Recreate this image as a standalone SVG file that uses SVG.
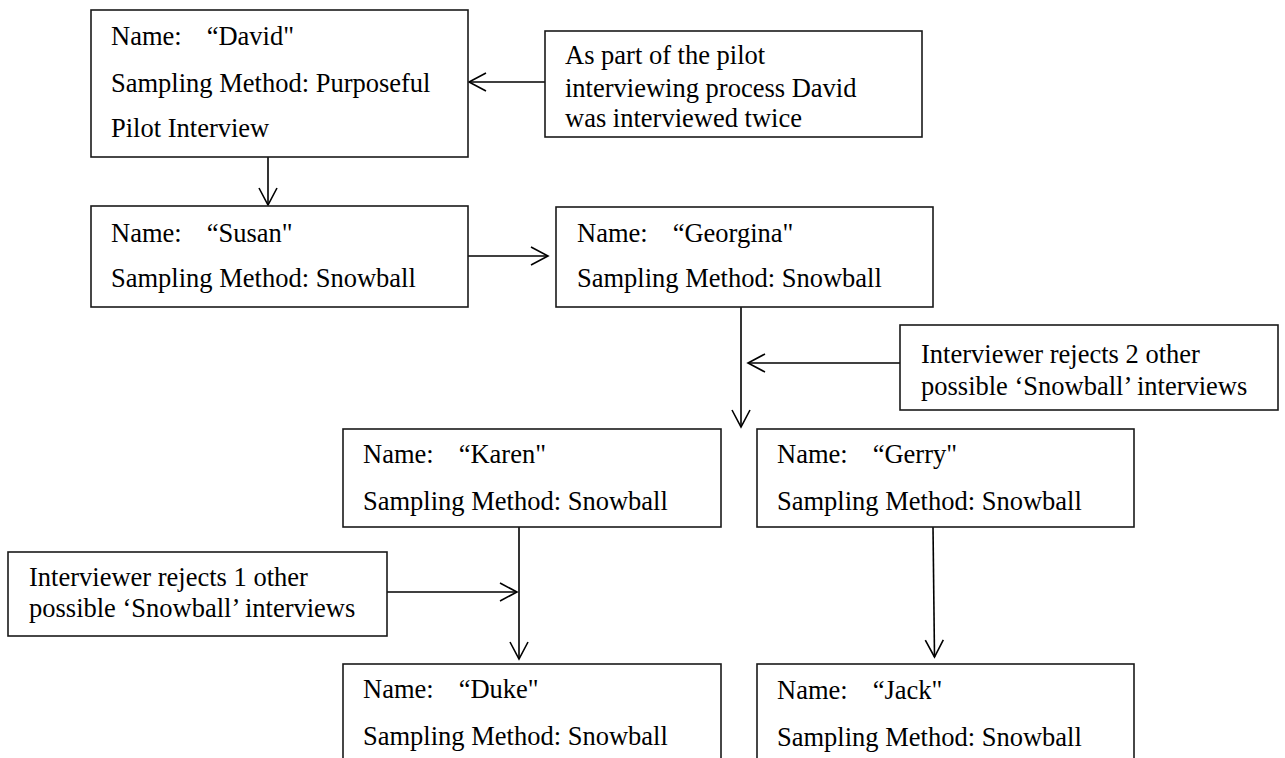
<svg xmlns="http://www.w3.org/2000/svg" width="1285" height="758" viewBox="0 0 1285 758">
  <style>
    .box { fill: #ffffff; stroke: #1a1a1a; stroke-width: 1.6; }
    .txt { font-family: "Liberation Serif", "Times New Roman", serif; font-size: 26.5px; fill: #000000; }
    .link { fill: none; stroke: #000000; stroke-width: 1.6; marker-end: url(#head); }
  </style>
  <defs>
    <!-- open V arrowhead -->
    <marker id="head" markerUnits="userSpaceOnUse" markerWidth="24" markerHeight="24" viewBox="-20 -12 24 24" refX="0" refY="0" orient="auto">
      <path d="M-17,-9 L0,0 L-17,9" fill="none" stroke="#000000" stroke-width="1.6"/>
    </marker>
  </defs>
  <rect width="1285" height="758" fill="#ffffff"/>

  <g id="connectors">
    <path class="link" d="M268,157 L268,205"/>
    <path class="link" d="M545,82 L469,82"/>
    <path class="link" d="M468,256 L548,256"/>
    <path class="link" d="M741,307 L741,427"/>
    <path class="link" d="M900,363 L748,363"/>
    <path class="link" d="M519,527 L519,659"/>
    <path class="link" d="M387,592 L517,592"/>
    <path class="link" d="M933,527 L934.5,657"/>
  </g>

  <g id="david">
    <rect class="box" x="91" y="10" width="377" height="147"/>
    <text class="txt" x="111" y="45">Name:<tspan dx="25">“David"</tspan></text>
    <text class="txt" x="111" y="92">Sampling Method: Purposeful</text>
    <text class="txt" x="111" y="137">Pilot Interview</text>
  </g>

  <g id="note-pilot">
    <rect class="box" x="545" y="31" width="377" height="106"/>
    <text class="txt" x="565" y="64">As part of the pilot</text>
    <text class="txt" x="565" y="97">interviewing process David</text>
    <text class="txt" x="565" y="127">was interviewed twice</text>
  </g>

  <g id="susan">
    <rect class="box" x="91" y="206" width="377" height="101"/>
    <text class="txt" x="111" y="242">Name:<tspan dx="25">“Susan"</tspan></text>
    <text class="txt" x="111" y="287">Sampling Method: Snowball</text>
  </g>

  <g id="georgina">
    <rect class="box" x="556" y="207" width="377" height="100"/>
    <text class="txt" x="577" y="242">Name:<tspan dx="25">“Georgina"</tspan></text>
    <text class="txt" x="577" y="287">Sampling Method: Snowball</text>
  </g>

  <g id="note-reject-2">
    <rect class="box" x="900" y="325" width="378" height="85"/>
    <text class="txt" x="921" y="363">Interviewer rejects 2 other</text>
    <text class="txt" x="921" y="395">possible ‘Snowball’ interviews</text>
  </g>

  <g id="karen">
    <rect class="box" x="343" y="429" width="378" height="98"/>
    <text class="txt" x="363" y="463">Name:<tspan dx="25">“Karen"</tspan></text>
    <text class="txt" x="363" y="510">Sampling Method: Snowball</text>
  </g>

  <g id="gerry">
    <rect class="box" x="757" y="429" width="377" height="98"/>
    <text class="txt" x="777" y="463">Name:<tspan dx="25">“Gerry"</tspan></text>
    <text class="txt" x="777" y="510">Sampling Method: Snowball</text>
  </g>

  <g id="note-reject-1">
    <rect class="box" x="8" y="552" width="379" height="84"/>
    <text class="txt" x="29" y="586">Interviewer rejects 1 other</text>
    <text class="txt" x="29" y="617">possible ‘Snowball’ interviews</text>
  </g>

  <g id="duke">
    <rect class="box" x="343" y="664" width="378" height="120"/>
    <text class="txt" x="363" y="698">Name:<tspan dx="25">“Duke"</tspan></text>
    <text class="txt" x="363" y="745">Sampling Method: Snowball</text>
  </g>

  <g id="jack">
    <rect class="box" x="757" y="664" width="377" height="120"/>
    <text class="txt" x="777" y="699">Name:<tspan dx="25">“Jack"</tspan></text>
    <text class="txt" x="777" y="746">Sampling Method: Snowball</text>
  </g>
</svg>
